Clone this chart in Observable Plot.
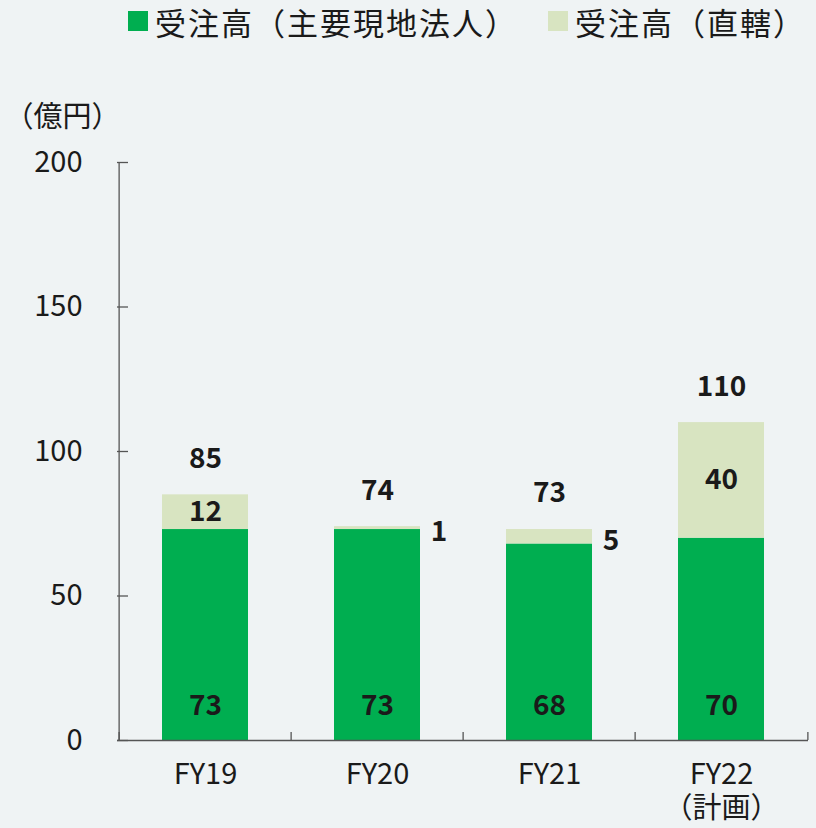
<!DOCTYPE html>
<html><head><meta charset="utf-8">
<script src="https://cdn.jsdelivr.net/npm/d3@7"></script>
<script src="https://cdn.jsdelivr.net/npm/@observablehq/plot@0.6"></script>
<style>
html,body{margin:0;padding:0;background:#eff3f4;}
body{width:816px;height:828px;overflow:hidden;font-family:"Noto Sans CJK JP","Noto Sans",sans-serif;color:#1a1a1a;}
#legend{box-sizing:border-box;width:816px;height:48px;padding-bottom:6px;display:flex;align-items:center;padding-left:128px;font-size:31px;letter-spacing:2px;white-space:nowrap;}
.item{display:flex;align-items:center;margin-right:30px;flex-shrink:0;white-space:nowrap;}
.sw{width:20px;height:20px;margin-right:7px;flex-shrink:0;}
</style></head>
<body>
<div id="legend"></div>
<div id="chart"></div>
<script>
const categories = ["FY19","FY20","FY21","FY22"];
const xLabels = ["FY19","FY20","FY21","FY22\n（計画）"];
const localOrders = [73,73,68,70];
const directOrders = [12,1,5,40];
const totals = [85,74,73,110];
const yTicks = [0,50,100,150,200];
const seriesNames = ["受注高（主要現地法人）","受注高（直轄）"];
const colors = ["#00ae50","#d8e4c1"];
const unitLabel = "（億円）";

const legend = document.getElementById("legend");
seriesNames.forEach((n,i)=>{
  const it = document.createElement("div"); it.className="item";
  const sw = document.createElement("span"); sw.className="sw"; sw.style.background=colors[i];
  const t = document.createElement("span"); t.textContent=n;
  it.appendChild(sw); it.appendChild(t); legend.appendChild(it);
});

const rows = categories.map((c,i)=>({cat:c, local:localOrders[i], direct:directOrders[i], total:totals[i], label:xLabels[i]}));

const W=816, H=780, mL=117, mR=8, mT=114, mB=88;
const frameW = W-mL-mR, frameH = H-mT-mB;
const half = frameW/categories.length/2;
const bw = half; // bar width = half step
const axisColor="#555";

const chart = Plot.plot({
  width: W, height: H, marginLeft: mL, marginRight: mR, marginTop: mT, marginBottom: mB,
  style: {background:"transparent", fontFamily:'"Noto Sans CJK JP","Noto Sans",sans-serif', fontSize:"29px", color:"#1a1a1a", overflow:"visible"},
  x: {domain: categories, paddingInner: 0.5, paddingOuter: 0.25, axis: null},
  y: {domain: [0,200], axis: null},
  marks: [
    Plot.barY(rows, {x:"cat", y1:0, y2:"local", fill:colors[0], inset:0}),
    Plot.barY(rows, {x:"cat", y1:"local", y2:"total", fill:colors[1], inset:0}),
    Plot.ruleX([categories[0]], {dx:-half, stroke:axisColor, strokeWidth:1.3}),
    Plot.ruleY([0], {stroke:axisColor, strokeWidth:1.3}),
    Plot.ruleY(yTicks, {insetRight: frameW-11, stroke:axisColor, strokeWidth:1.3}),
    Plot.ruleX(categories, {dx:-half, insetTop: frameH-8, stroke:axisColor, strokeWidth:1.3}),
    Plot.ruleX([categories[categories.length-1]], {dx:half, insetTop: frameH-8, stroke:axisColor, strokeWidth:1.3}),
    Plot.axisY({ticks:yTicks, tickSize:0, tickPadding:35, fontSize:29, label:null}),
    Plot.axisX({tickSize:0, tickPadding:20, fontSize:29, label:null, tickFormat:(d)=>xLabels[categories.indexOf(d)], lineHeight:1.15}),
    Plot.text([unitLabel], {frameAnchor:"top-left", dx:-113, dy:-56, textAnchor:"start", fontSize:29, text:d=>d}),
    Plot.text(rows, {x:"cat", y:0, dy:-34, text:d=>String(d.local), fontWeight:"bold", fontSize:28}),
    Plot.text(rows.filter(d=>d.direct>=10), {x:"cat", y:d=>d.local+d.direct/2, text:d=>String(d.direct), fontWeight:"bold", fontSize:28}),
    Plot.text(rows.filter(d=>d.direct<10), {x:"cat", y:d=>d.local+d.direct/2, dx:bw/2+10, dy:4, textAnchor:"start", text:d=>String(d.direct), fontWeight:"bold", fontSize:28}),
    Plot.text(rows, {x:"cat", y:"total", dy:-36, text:d=>String(d.total), fontWeight:"bold", fontSize:28})
  ]
});
document.getElementById("chart").appendChild(chart);
</script>
</body></html>
